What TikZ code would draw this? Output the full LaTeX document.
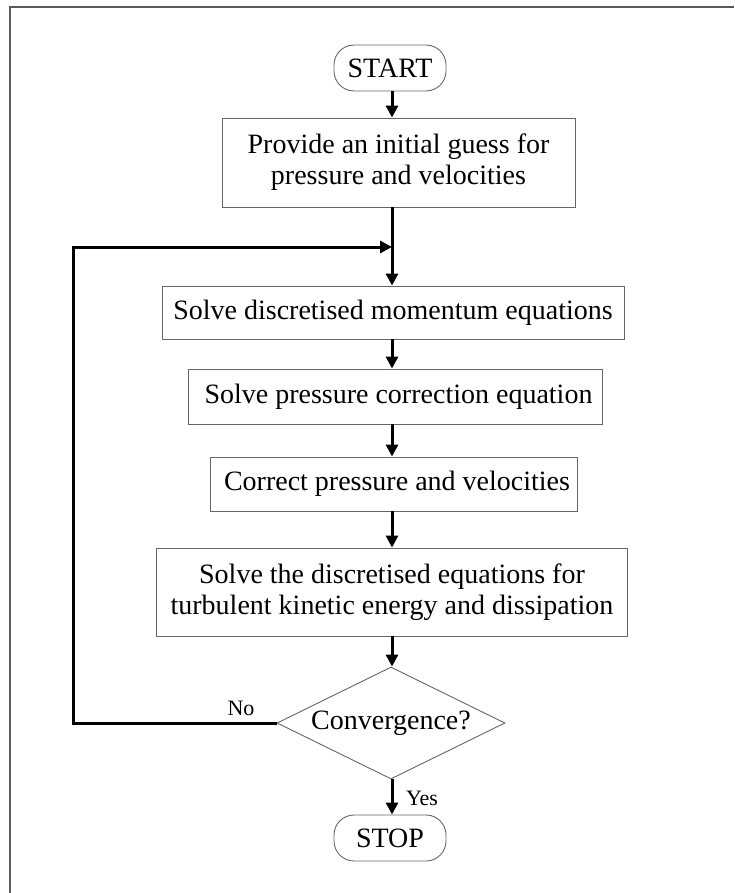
\documentclass[tikz,border=0pt]{standalone}
\usepackage{fontspec}
\setmainfont{Liberation Serif}
\usetikzlibrary{arrows.meta, shapes.geometric}

\begin{document}
\begin{tikzpicture}[
    x=1pt, y=-1pt,
    >={Triangle[length=12pt, width=12pt]},
    font=\fontsize{28}{31}\selectfont
]

    % Global styles for the flow chart
    \tikzset{
        stepbox/.style={draw=black!60, line width=0.9pt, rectangle, align=center, inner sep=0pt},
        termbox/.style={draw=black!60, line width=0.9pt, rectangle, rounded corners=20pt,
            minimum width=112pt, minimum height=46pt, inner sep=0pt},
        testbox/.style={diamond, draw=black!60, line width=0.9pt, aspect=2.04,
            minimum width=228pt, minimum height=112pt, inner sep=0pt},
        flow/.style={->, line width=3pt},
        loopline/.style={line width=3pt},
        tag/.style={font=\fontsize{22}{26}\selectfont}
    }

    \useasboundingbox (0,0) rectangle (734,893);

    % Frame
    \draw[black!65, line width=1.2pt] (10,893) -- (10,7) -- (734,7);

    % Start
    \node[termbox] (start) at (390,68) {START};

    % Initial guess
    \node[stepbox, minimum width=353pt, minimum height=89pt] (guess) at (398.5,162.5)
        {Provide an initial guess for\\pressure and velocities};

    % Iteration steps
    \node[stepbox, minimum width=462pt, minimum height=53pt] (mom) at (393,312.5)
        {Solve discretised momentum equations};
    \node[stepbox, minimum width=414pt, minimum height=55pt] (pcorr) at (395,396.5)
        {\ Solve pressure correction equation};
    \node[stepbox, minimum width=367pt, minimum height=54pt] (corr) at (393.5,484)
        {\ Correct pressure and velocities};
    \node[stepbox, minimum width=471pt, minimum height=88pt] (turb) at (392,592)
        {Solve the discretised equations for\\turbulent kinetic energy and dissipation};

    % Convergence check
    \node[testbox] (conv) at (391,723) {Convergence?};

    % Stop
    \node[termbox] (stop) at (390,838) {STOP};

    % Join point of the loop
    \coordinate (join) at (392,247);
    \coordinate (back) at (73,723);

    % Main flow
    \draw[flow] (start.south -| join) -- (guess.north -| join);
    \draw[flow] (guess.south -| join) -- (mom.north -| join);
    \draw[flow] (mom.south -| join) -- (pcorr.north -| join);
    \draw[flow] (pcorr.south -| join) -- (corr.north -| join);
    \draw[flow] (corr.south -| join) -- (turb.north -| join);
    \draw[flow] (turb.south -| join) -- (conv.north -| join);
    \draw[flow] (conv.south -| join) -- (stop.north -| join);

    % Loop back (No)
    \draw[loopline] (conv.west) -- (back) -- (back |- join);
    \draw[flow] ([xshift=-1.5pt]back |- join) -- (join);

    % Branch labels
    \node[tag] (no) at (241,708) {No};
    \node[tag] (yes) at (422,798) {Yes};

\end{tikzpicture}
\end{document}
